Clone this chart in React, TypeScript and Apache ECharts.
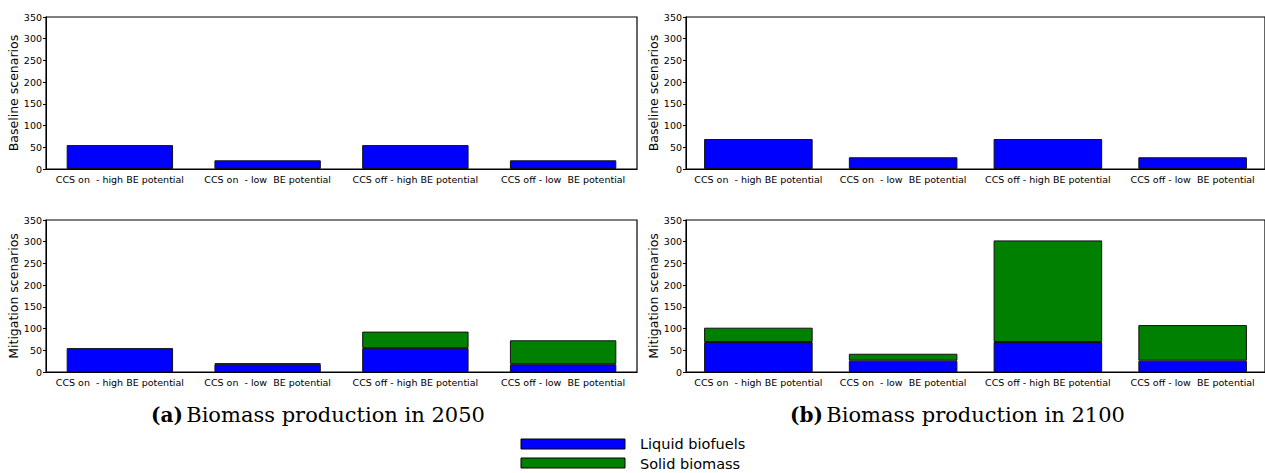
import React, { useEffect, useRef } from 'react';
import * as echarts from 'echarts';

const categories = ['CCS on  - high BE potential', 'CCS on  - low  BE potential', 'CCS off - high BE potential', 'CCS off - low  BE potential'];
const yTicks = [0, 50, 100, 150, 200, 250, 300, 350];

const base2050Liquid = [55, 20, 55, 20];
const base2050Solid = [0, 0, 0, 0];
const mit2050Liquid = [55, 18, 55, 18];
const mit2050Solid = [0, 2, 38, 55];
const base2100Liquid = [69, 27, 69, 27];
const base2100Solid = [0, 0, 0, 0];
const mit2100Liquid = [69, 26, 69, 26];
const mit2100Solid = [33, 16, 234, 82];

const panels = [
  { liquid: base2050Liquid, solid: base2050Solid, name: 'Baseline scenarios', left: 46, top: 17, width: 591 },
  { liquid: mit2050Liquid, solid: mit2050Solid, name: 'Mitigation scenarios', left: 46, top: 220, width: 591 },
  { liquid: base2100Liquid, solid: base2100Solid, name: 'Baseline scenarios', left: 686, top: 17, width: 620 },
  { liquid: mit2100Liquid, solid: mit2100Solid, name: 'Mitigation scenarios', left: 686, top: 220, width: 620 },
];

const App: React.FC = () => {
  const ref = useRef<HTMLDivElement>(null);

  useEffect(() => {
    document.body.style.margin = '0';
    if (!ref.current) return;
    const chart = echarts.init(ref.current, null, { renderer: 'svg' });
    const font = 'DejaVu Sans';
    const caption = {
      b: { fontFamily: 'DejaVu Serif', fontWeight: 'bold', fontSize: 20 },
      n: { fontFamily: 'DejaVu Serif', fontSize: 21 },
    };

    chart.setOption({
      animation: false,
      textStyle: { fontFamily: font },
      grid: panels.map(p => ({
        left: p.left, top: p.top, width: p.width, height: 152,
        show: true, borderColor: '#000', borderWidth: 1.2, containLabel: false,
      })),
      xAxis: panels.map((_, i) => ({
        type: 'category', gridIndex: i, data: categories,
        axisLine: { lineStyle: { color: '#000' } },
        axisTick: { show: false },
        axisLabel: { color: '#000', fontSize: 9.5, interval: 0, margin: 5 },
      })),
      yAxis: panels.map((p, i) => ({
        type: 'value', gridIndex: i, min: 0, max: 350, interval: 50,
        name: p.name, nameLocation: 'middle', nameGap: 26,
        nameTextStyle: { color: '#000', fontSize: 12.5 },
        splitLine: { show: false },
        axisLine: { show: true, lineStyle: { color: '#000' } },
        axisTick: { show: true, length: 3, lineStyle: { color: '#000' } },
        axisLabel: { color: '#000', fontSize: 9.5, margin: 4, formatter: (v: number) => (yTicks.includes(v) ? String(v) : '') },
      })),
      series: panels.flatMap((p, i) => [
        {
          type: 'bar', xAxisIndex: i, yAxisIndex: i, stack: 's' + i, data: p.liquid,
          barCategoryGap: i < 2 ? '28%' : '25%',
          itemStyle: { color: '#0000ff', borderColor: '#111', borderWidth: 1 },
        },
        {
          type: 'bar', xAxisIndex: i, yAxisIndex: i, stack: 's' + i,
          data: p.solid.map(v => (v === 0 ? null : v)),
          barCategoryGap: i < 2 ? '28%' : '25%',
          itemStyle: { color: '#008000', borderColor: '#111', borderWidth: 1 },
        },
      ]),
      graphic: [
        { type: 'text', left: 151, top: 404, style: { rich: caption, text: '{b|(a)} {n|Biomass production in 2050}', fill: '#000' } },
        { type: 'text', left: 790, top: 404, style: { rich: caption, text: '{b|(b)} {n|Biomass production in 2100}', fill: '#000' } },
        { type: 'rect', shape: { x: 521, y: 439, width: 104, height: 10 }, style: { fill: '#0000ff', stroke: '#000', lineWidth: 1 } },
        { type: 'rect', shape: { x: 521, y: 458, width: 104, height: 10 }, style: { fill: '#008000', stroke: '#000', lineWidth: 1 } },
        { type: 'text', x: 640, y: 436, style: { text: 'Liquid biofuels', fontFamily: font, fontSize: 14.5, fill: '#000' } },
        { type: 'text', x: 640, y: 456, style: { text: 'Solid biomass', fontFamily: font, fontSize: 14.5, fill: '#000' } },
      ],
    });

    return () => { chart.dispose(); };
  }, []);

  return <div ref={ref} style={{ width: 1265, height: 473, overflow: 'hidden' }} />;
};

export default App;
